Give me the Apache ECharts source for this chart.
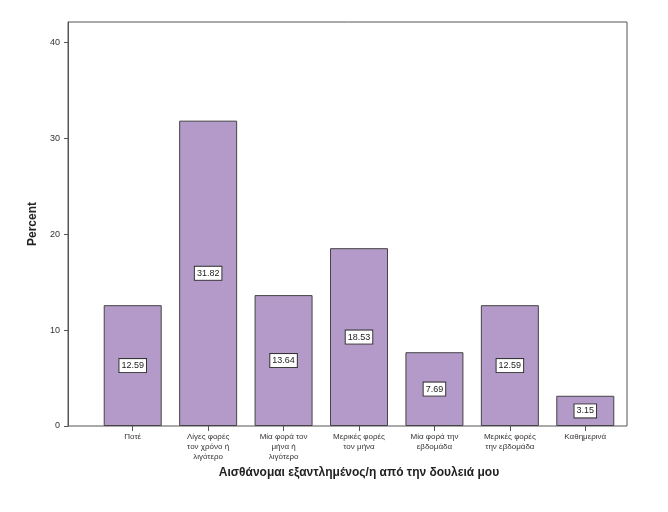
<!DOCTYPE html><html><head><meta charset="utf-8"><script src="https://cdn.jsdelivr.net/npm/echarts@6/dist/echarts.min.js"></script></head><body style="margin:0;background:#fff"><div id="c" style="width:668px;height:512px"></div><script>
const categories=["Ποτέ","Λίγες φορές\nτον χρόνο ή\nλιγότερο","Μία φορά τον\nμήνα ή\nλιγότερο","Μερικές φορές\nτον μήνα","Μία φορά την\nεβδομάδα","Μερικές φορές\nτην εβδομάδα","Καθημερινά"];
const values=[12.59,31.82,13.64,18.53,7.69,12.59,3.15];
const yTicks=[0,10,20,30,40];
const ch=echarts.init(document.getElementById('c'));
ch.setOption({
 animation:false,
 grid:{left:95,right:45,top:22,bottom:86},
 graphic:[{type:'rect',shape:{x:68,y:22,width:559,height:404},style:{fill:'none',stroke:'#555',lineWidth:1},z:-1}],
 xAxis:{type:'category',data:categories,axisLine:{show:false},axisTick:{show:true,alignWithLabel:true,length:5,lineStyle:{color:'#555'}},
  axisLabel:{fontSize:8,color:'#333',fontFamily:'Liberation Sans',lineHeight:10,interval:0,margin:6},
  name:'Αισθάνομαι εξαντλημένος/η από την δουλειά μου',nameLocation:'middle',nameGap:40,nameTextStyle:{fontSize:12,fontWeight:'bold',color:'#222',fontFamily:'Liberation Sans'}},
 yAxis:{type:'value',min:0,max:42.1,interval:10,offset:27,splitLine:{show:false},axisLine:{show:true,lineStyle:{color:'#555'}},axisTick:{show:true,length:4},
  axisLabel:{fontSize:9,color:'#333',fontFamily:'Liberation Sans',showMaxLabel:false,formatter:v=>yTicks.includes(v)?v:''},
  name:'Percent',nameLocation:'middle',nameGap:28,nameTextStyle:{fontSize:12,fontWeight:'bold',color:'#222',fontFamily:'Liberation Sans'}},
 series:[{type:'bar',data:values,barWidth:58,itemStyle:{color:'#b49ac8',borderColor:'#444',borderWidth:1},
  label:{show:true,position:'inside',formatter:p=>p.value.toFixed(2),fontSize:9,color:'#222',backgroundColor:'#fff',borderColor:'#333',borderWidth:1,padding:[2,2]}}]
});
</script></body></html>
